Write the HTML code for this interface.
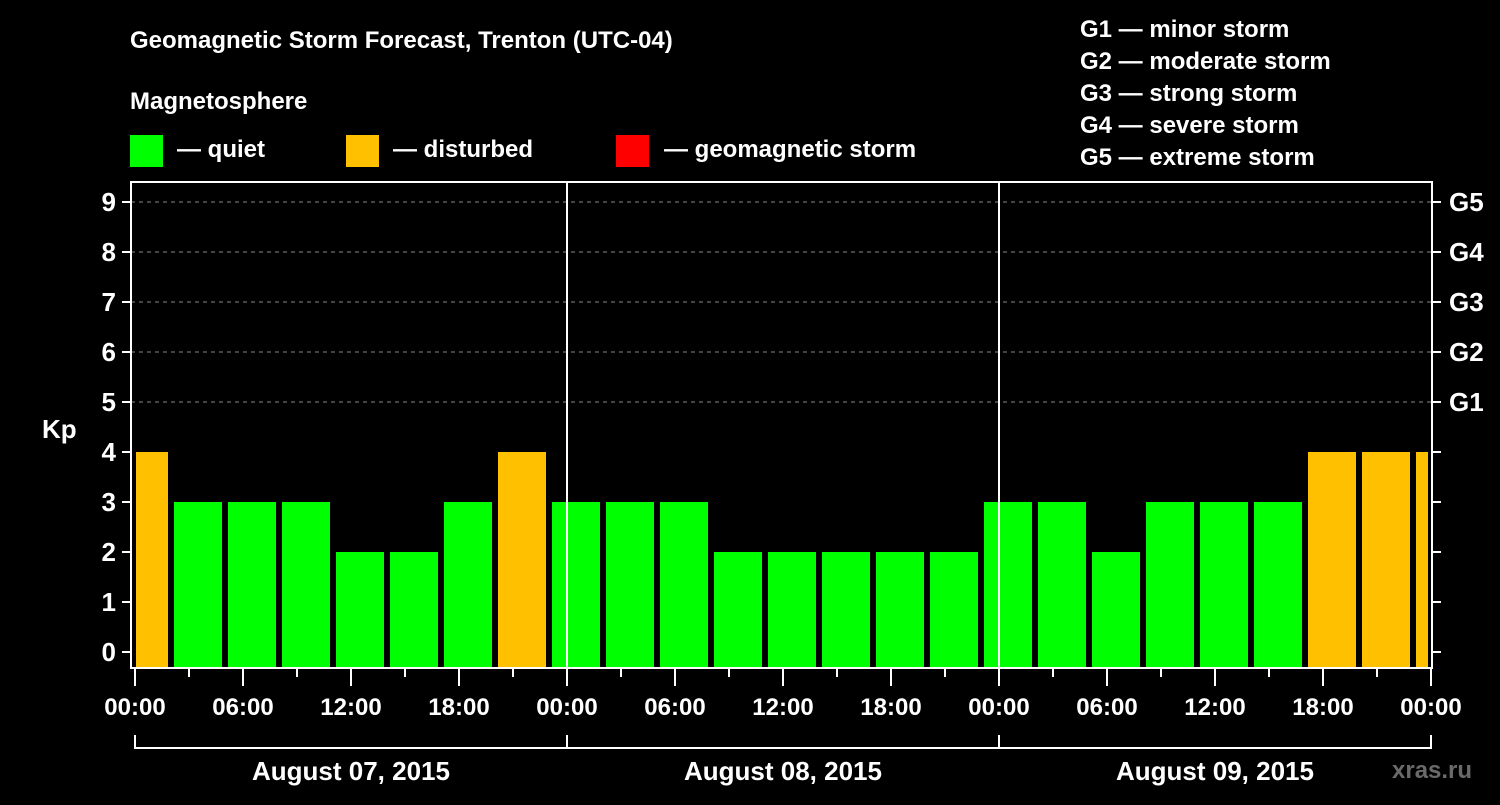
<!DOCTYPE html>
<html><head><meta charset="utf-8"><style>
body{margin:0;background:#000;width:1500px;height:800px;overflow:hidden}
svg text{font-family:"Liberation Sans",sans-serif;font-weight:bold;fill:#fff}
</style></head><body>
<svg id="c" width="1500" height="800">
<text x="130" y="48" font-size="24">Geomagnetic Storm Forecast, Trenton (UTC-04)</text>
<text x="130" y="109" font-size="24">Magnetosphere</text>
<g><rect x="130" y="135" width="33" height="32" fill="#00ff00"/><text x="177" y="157" font-size="24">— quiet</text></g>
<g><rect x="346" y="135" width="33" height="32" fill="#ffc000"/><text x="393" y="157" font-size="24">— disturbed</text></g>
<g><rect x="616" y="135" width="33" height="32" fill="#ff0000"/><text x="664" y="157" font-size="24">— geomagnetic storm</text></g>
<g font-size="24">
<text x="1080" y="37">G1 — minor storm</text><text x="1080" y="69">G2 — moderate storm</text><text x="1080" y="101">G3 — strong storm</text><text x="1080" y="133">G4 — severe storm</text><text x="1080" y="165">G5 — extreme storm</text>
</g>
<text x="42" y="438" font-size="26">Kp</text>
<g id="grid"></g><g id="bars"></g><g id="axes"></g>
<text x="1392" y="778" font-size="24" fill="#666" style="fill:#6a6a6a">xras.ru</text>
</svg>
<script>
const kpValues=[4,3,3,3,2,2,3,4,3,3,3,2,2,2,2,2,3,3,2,3,3,3,4,4,4];
const yTicks=[0,1,2,3,4,5,6,7,8,9];
const gLabels=["G1","G2","G3","G4","G5"];
const dayLabels=["August 07, 2015","August 08, 2015","August 09, 2015"];
const hourLabels=["00:00","06:00","12:00","18:00"];
const NS="http://www.w3.org/2000/svg";
const L=131,R=1432,T=182,B=668,X0=135,PXH=18;
const y=v=>652-v*50;
const x=h=>X0+h*PXH;
function mk(tag,attrs,parent,txt){const e=document.createElementNS(NS,tag);for(const k in attrs)e.setAttribute(k,attrs[k]);if(txt!=null)e.textContent=txt;document.getElementById(parent).appendChild(e);return e;}
// grid
for(let v=5;v<=9;v++){const e=mk('line',{x1:L,x2:R,y1:y(v),y2:y(v),stroke:'#888','stroke-dasharray':'4,4','stroke-width':1},'grid');

}
// bars
kpValues.forEach((v,i)=>{let c=x(i*3+0.5),x1=c-24,x2=c+24;x1=Math.max(x1,L+5);x2=Math.min(x2,R-4);
const col=v>=5?'#ff0000':(v>=4?'#ffc000':'#00ff00');
const e=mk('rect',{x:x1,y:y(v),width:x2-x1,height:B-y(v),fill:col},'bars');

});
// axes frame
const fr=mk('path',{d:`M${L} ${T}H${R}V${B}H${L}Z`,fill:'none',stroke:'#fff','stroke-width':2},'axes');


[1,2].forEach(d=>{const e=mk('line',{x1:x(d*24),x2:x(d*24),y1:T,y2:B,stroke:'#fff','stroke-width':2},'axes');

});
yTicks.forEach(v=>{mk('line',{x1:L-9,x2:L,y1:y(v),y2:y(v),stroke:'#fff','stroke-width':2},'axes');
mk('line',{x1:R,x2:R+9,y1:y(v),y2:y(v),stroke:'#fff','stroke-width':2},'axes');
const t=mk('text',{x:116,y:y(v)+9,'font-size':26,'text-anchor':'end'},'axes',String(v));

});
gLabels.forEach((g,i)=>{const t=mk('text',{x:1449,y:y(i+5)+9,'font-size':26},'axes',g);

});
for(let h=0;h<=72;h+=3){const big=h%6==0;mk('line',{x1:x(h),x2:x(h),y1:B,y2:B+(big?18:9),stroke:'#fff','stroke-width':2},'axes');
if(big){const t=mk('text',{x:x(h),y:715,'font-size':24,'text-anchor':'middle'},'axes',hourLabels[(h/6)%4]);

}}
const br=mk('path',{d:`M${x(0)} 735V748H${x(72)}V735M${x(24)} 735V748M${x(48)} 735V748`,fill:'none',stroke:'#fff','stroke-width':2},'axes');


dayLabels.forEach((d,i)=>{const t=mk('text',{x:x(i*24+12),y:780,'font-size':26,'text-anchor':'middle'},'axes',d);

});
</script>
</body></html>
